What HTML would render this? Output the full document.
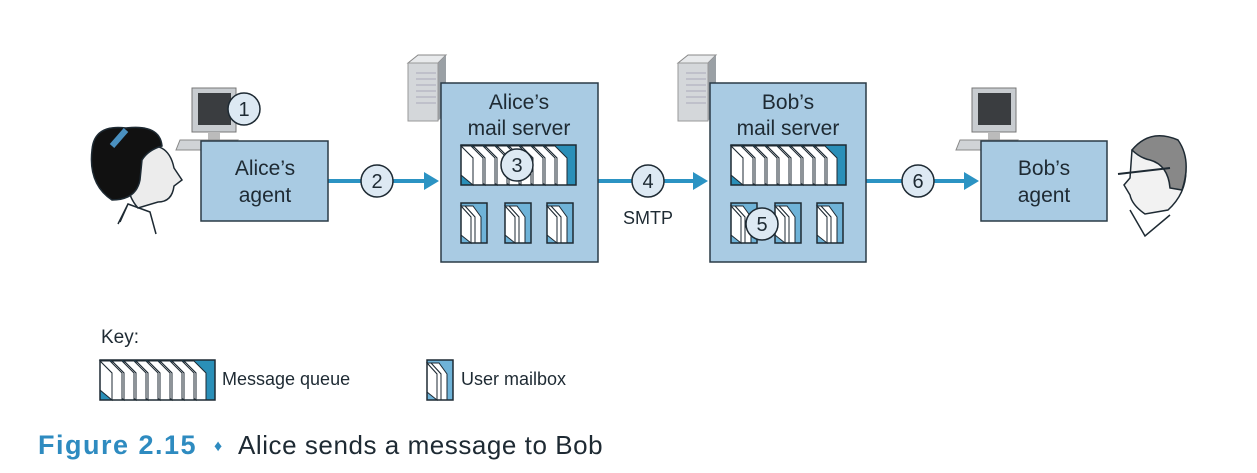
<!DOCTYPE html>
<html><head><meta charset="utf-8"><style>
html,body{margin:0;padding:0;background:#fff;width:1257px;height:473px;overflow:hidden}
svg{display:block}
text{font-family:"Liberation Sans","DejaVu Sans",sans-serif;fill:#1e2a33}
</style></head><body>
<svg width="1257" height="473" viewBox="0 0 1257 473" xmlns="http://www.w3.org/2000/svg">
<defs>
  <g id="paper">
    <polygon points="0,1 10,1 22,13 22,40 12,40 12,13" fill="#fff" stroke="#1e2a33" stroke-width="1"/>
    <polygon points="0,1 12,13 12,40 0,30" fill="#fff" stroke="#1e2a33" stroke-width="1"/>
  </g>
  <g id="queue">
    <rect x="0" y="0" width="115" height="40" fill="#2a8fb8"/>
    <use href="#paper" x="84"/><use href="#paper" x="72"/><use href="#paper" x="60"/><use href="#paper" x="48"/>
    <use href="#paper" x="36"/><use href="#paper" x="24"/><use href="#paper" x="12"/><use href="#paper" x="0"/>
    <rect x="0" y="0" width="115" height="40" fill="none" stroke="#1e2a33" stroke-width="1.5"/>
  </g>
  <g id="mbox">
    <rect x="0" y="0" width="26" height="40" fill="#6fb3d8"/>
    <polygon points="4,3 12,3 20,14 20,40 14,40 14,14" fill="#fff" stroke="#1e2a33" stroke-width="1"/>
    <polygon points="0,3 4,3 14,14 14,40 10,40 10,14" fill="#fff" stroke="#1e2a33" stroke-width="1"/>
    <polygon points="0,3 10,14 10,40 0,32" fill="#fff" stroke="#1e2a33" stroke-width="1"/>
    <rect x="0" y="0" width="26" height="40" fill="none" stroke="#1e2a33" stroke-width="1.5"/>
  </g>
  <g id="server">
    <polygon points="0,8 10,0 38,0 30,8" fill="#e8eaec" stroke="#888"/>
    <polygon points="30,8 38,0 38,58 30,66" fill="#9aa0a5"/>
    <rect x="0" y="8" width="30" height="58" fill="#d4d7da" stroke="#999"/>
    <g stroke="#aab" stroke-width="1"><line x1="8" y1="18" x2="28" y2="18"/><line x1="8" y1="24" x2="28" y2="24"/><line x1="8" y1="30" x2="28" y2="30"/><line x1="8" y1="36" x2="28" y2="36"/><line x1="8" y1="42" x2="28" y2="42"/><line x1="8" y1="48" x2="28" y2="48"/></g>
  </g>
  <g id="pc">
    <polygon points="16,0 60,0 60,44 16,44" fill="#c8ccd0" stroke="#777"/>
    <rect x="22" y="5" width="33" height="32" fill="#3a3d40"/>
    <rect x="32" y="44" width="12" height="8" fill="#bbb"/>
    <polygon points="4,52 62,52 56,62 0,62" fill="#d0d3d6" stroke="#888"/>
  </g>
</defs>

<g stroke="#2b93c3" stroke-width="4" fill="none">
  <line x1="328" y1="181" x2="435" y2="181"/>
  <line x1="598" y1="181" x2="704" y2="181"/>
  <line x1="866" y1="181" x2="975" y2="181"/>
</g>
<g fill="#2b93c3">
  <polygon points="424,172 439,181 424,190"/>
  <polygon points="693,172 708,181 693,190"/>
  <polygon points="964,172 979,181 964,190"/>
</g>

<use href="#pc" x="176" y="88"/>
<use href="#pc" x="956" y="88"/>
<use href="#server" x="408" y="55"/>
<use href="#server" x="678" y="55"/>

<g fill="#a9cbe3" stroke="#2a3b47" stroke-width="1.5">
  <rect x="201" y="141" width="127" height="80"/>
  <rect x="441" y="83" width="157" height="179"/>
  <rect x="710" y="83" width="156" height="179"/>
  <rect x="981" y="141" width="126" height="80"/>
</g>
<g font-size="21" text-anchor="middle">
  <text x="265" y="175">Alice’s</text><text x="265" y="202">agent</text>
  <text x="519" y="109">Alice’s</text><text x="519" y="135">mail server</text>
  <text x="788" y="109">Bob’s</text><text x="788" y="135">mail server</text>
  <text x="1044" y="175">Bob’s</text><text x="1044" y="202">agent</text>
</g>

<use href="#queue" x="461" y="145"/>
<use href="#mbox" x="461" y="203"/><use href="#mbox" x="505" y="203"/><use href="#mbox" x="547" y="203"/>
<use href="#queue" x="731" y="145"/>
<use href="#mbox" x="731" y="203"/><use href="#mbox" x="775" y="203"/><use href="#mbox" x="817" y="203"/>

<g fill="#dde9f3" stroke="#1e2a33" stroke-width="1.5">
  <circle cx="244" cy="109" r="16"/>
  <circle cx="377" cy="181" r="16"/>
  <circle cx="517" cy="165" r="16"/>
  <circle cx="648" cy="181" r="16"/>
  <circle cx="762" cy="224" r="16"/>
  <circle cx="918" cy="181" r="16"/>
</g>
<g font-size="20" text-anchor="middle">
  <text x="244" y="116">1</text><text x="377" y="188">2</text><text x="517" y="172">3</text>
  <text x="648" y="188">4</text><text x="762" y="231">5</text><text x="918" y="188">6</text>
</g>
<text x="648" y="224" font-size="18" text-anchor="middle">SMTP</text>

<g stroke="#1e2a33" stroke-width="1.5">
  <path d="M120,222 L128,204 L150,212 L156,234 M128,204 L118,224" fill="none"/>
  <path d="M136,148 Q168,138 174,168 L182,180 L174,186 Q172,202 158,202 L138,208 Q122,190 130,160 Z" fill="#ececec"/>
  <path d="M92,150 Q94,124 126,128 Q160,124 162,146 Q148,150 142,160 L140,180 Q136,200 112,200 Q88,184 92,150 Z" fill="#111"/>
  <path d="M112,146 L126,130" stroke="#4a90c0" stroke-width="6"/>
</g>
<g stroke="#1e2a33" stroke-width="1.5">
  <path d="M1130,210 L1145,236 L1170,215" fill="none"/>
  <path d="M1132,150 Q1170,130 1185,160 Q1190,190 1168,210 L1145,214 Q1132,205 1130,195 L1124,185 L1130,178 Z" fill="#f2f2f2"/>
  <path d="M1132,150 Q1150,128 1178,140 Q1192,160 1182,190 L1170,188 Q1168,165 1150,160 Q1140,158 1132,150 Z" fill="#888"/>
  <path d="M1118,174 L1170,168" stroke-width="2"/>
</g>

<text x="101" y="343" font-size="19">Key:</text>
<use href="#queue" x="100" y="360"/>
<text x="222" y="385" font-size="18">Message queue</text>
<use href="#mbox" x="427" y="360"/>
<text x="461" y="385" font-size="18">User mailbox</text>

<text x="38" y="454" font-size="27" font-weight="bold" letter-spacing="1.5" style="fill:#2e8bc0">Figure 2.15</text>
<text x="214" y="451" font-size="16" style="fill:#2e8bc0">♦</text>
<text x="238" y="454" font-size="26" letter-spacing="0.55">Alice sends a message to Bob</text>
</svg>
</body></html>
